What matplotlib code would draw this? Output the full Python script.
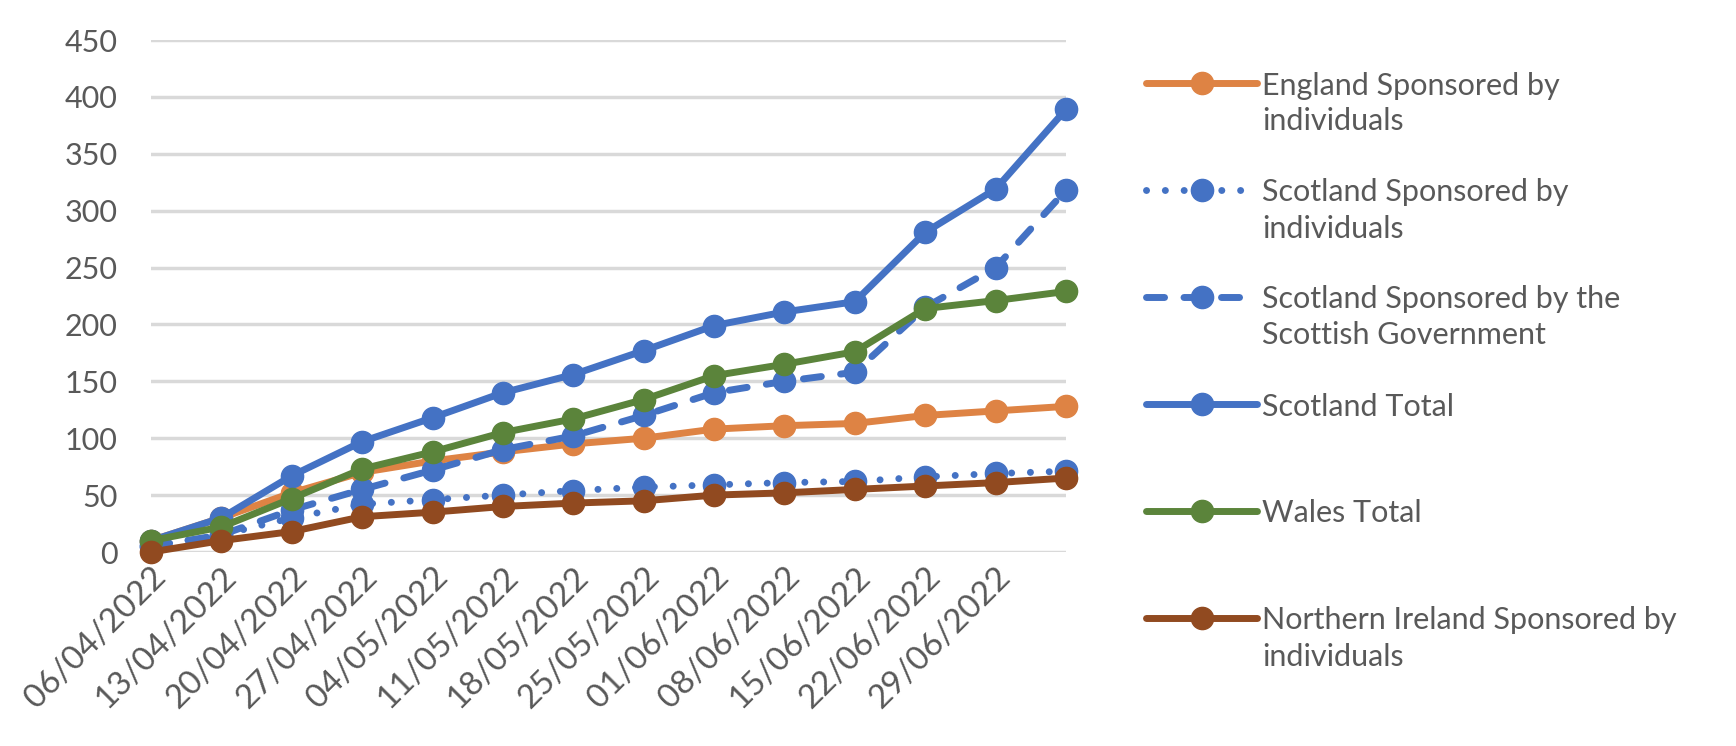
import matplotlib
matplotlib.use("Agg")
import matplotlib.pyplot as plt
from matplotlib.lines import Line2D

# categories (last point has no label on the reference axis)
dates = ["06/04/2022", "13/04/2022", "20/04/2022", "27/04/2022", "04/05/2022",
         "11/05/2022", "18/05/2022", "25/05/2022", "01/06/2022", "08/06/2022",
         "15/06/2022", "22/06/2022", "29/06/2022", ""]

england_ind = [10, 30, 52, 70, 80, 88, 95, 100, 108, 111, 113, 120, 124, 128]
scotland_ind = [5, 15, 30, 42, 46, 50, 54, 57, 59, 61, 62, 66, 69, 71]
scotland_gov = [5, 15, 37, 55, 72, 90, 102, 120, 140, 150, 158, 215, 250, 318]
scotland_total = [10, 30, 67, 97, 118, 140, 156, 177, 199, 211, 220, 281, 319, 389]
wales_total = [10, 22, 47, 73, 88, 105, 117, 134, 155, 165, 176, 214, 221, 229]
ni_ind = [0, 10, 18, 31, 35, 40, 43, 45, 50, 52, 55, 58, 61, 65]

labels = ["England Sponsored by\nindividuals",
          "Scotland Sponsored by\nindividuals",
          "Scotland Sponsored by the\nScottish Government",
          "Scotland Total",
          "Wales Total",
          "Northern Ireland Sponsored by\nindividuals"]

BLUE = "#4472C4"
ORANGE = "#DE8344"
GREEN = "#5B843B"
BROWN = "#914A20"
TEXT = "#595959"
FS = 22

plt.rcParams["font.family"] = ["Lato", "DejaVu Sans"]

W, H = 1736, 746
fig = plt.figure(figsize=(W / 100, H / 100), dpi=100)
ax = fig.add_axes([151 / W, 1 - 552 / H, (1066 - 151) / W, (552 - 40) / H])

x = list(range(len(dates)))
common = dict(lw=5, marker="o", ms=16, solid_capstyle="round",
              dash_capstyle="round")

series = [
    (england_ind, ORANGE, "-"),
    (scotland_ind, BLUE, (0, (0.01, 2.7))),
    (scotland_gov, BLUE, (0, (2.6, 2.8))),
    (scotland_total, BLUE, "-"),
    (wales_total, GREEN, "-"),
    (ni_ind, BROWN, "-"),
]
for vals, col, ls in series:
    ax.plot(x, vals, color=col, linestyle=ls, clip_on=False, **common)

ax.set_xlim(0, len(dates) - 1)
ax.set_ylim(0, 450)
ax.set_yticks(range(0, 451, 50))
ax.yaxis.grid(True, color="#D9D9D9", lw=2.5)
ax.set_axisbelow(True)
for s in ax.spines.values():
    s.set_visible(False)
ax.tick_params(axis="y", length=0, labelsize=FS, labelcolor=TEXT, pad=24)
ax.set_xticks(x)
ax.set_xticklabels(dates, rotation=45, ha="right", rotation_mode="anchor")
ax.tick_params(axis="x", length=0, labelsize=24, labelcolor=TEXT, pad=7)

# legend drawn by hand: handle aligned with the first text line, like Excel
for i, ((vals, col, ls), lab) in enumerate(zip(series, labels)):
    yc = 1 - (83 + 107 * i) / H
    x0, x1 = 1146 / W, 1257 / W
    fig.add_artist(Line2D([x0, x1], [yc, yc], color=col, linestyle=ls, lw=5,
                          solid_capstyle="round", dash_capstyle="round",
                          transform=fig.transFigure))
    fig.add_artist(Line2D([(x0 + x1) / 2], [yc], color=col, marker="o", ms=16,
                          transform=fig.transFigure))
    for j, line in enumerate(lab.split("\n")):
        fig.text(1262 / W, yc - j * 36 / H, line, fontsize=FS, color=TEXT,
                 va="center_baseline", ha="left")

fig.savefig("out.png", dpi=100)
